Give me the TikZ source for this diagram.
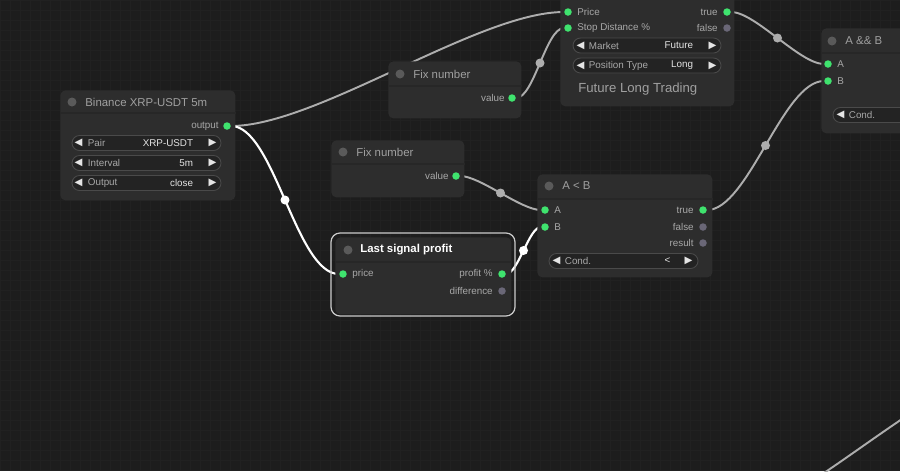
\documentclass[tikz,border=0pt]{standalone}
\usepackage{fontspec}
\setmainfont{Liberation Sans}
\newfontfamily\symfont{DejaVu Sans}
\pgfdeclarelayer{grid}
\pgfdeclarelayer{links}
\pgfsetlayers{grid,links,main}
\newlength\px
\setlength\px{0.02cm}
\definecolor{canvas}{HTML}{1D1D1D}
\definecolor{gridcol}{HTML}{212121}
\definecolor{panelbg}{HTML}{2D2D2D}
\definecolor{dividercol}{HTML}{272727}
\definecolor{titlecol}{HTML}{A0A0A0}
\definecolor{labelcol}{HTML}{A8A8A8}
\definecolor{valuecol}{HTML}{E4E4E4}
\definecolor{pillbg}{HTML}{232323}
\definecolor{pillline}{HTML}{4A4A4A}
\definecolor{portgreen}{HTML}{3FE36E}
\definecolor{portgrey}{HTML}{6A6777}
\definecolor{tdotcol}{HTML}{5A5A5A}
\definecolor{linkcol}{HTML}{ADADAD}
\tikzset{
  panel/.style={fill=panelbg, rounded corners=5\px, anchor=north west, inner sep=0},
  divider/.style={draw=dividercol, line width=0.6pt},
  title/.style={text=titlecol, font=\fontsize{6.5}{7}\selectfont, anchor=west, inner sep=0},
  lbl/.style={text=labelcol, font=\fontsize{5.6}{6.5}\selectfont, anchor=west, inner sep=0},
  rlbl/.style={lbl, anchor=east},
  val/.style={text=valuecol, font=\fontsize{5.6}{6.5}\selectfont, anchor=east, inner sep=0},
  pill/.style={draw=pillline, fill=pillbg, rounded corners=7.5\px, minimum height=15\px, inner sep=0, line width=0.5pt},
  arr/.style={text=valuecol, font=\symfont\fontsize{5.8}{6}\selectfont, inner sep=0},
  port/.style={circle, fill=portgreen, minimum size=7.5\px, inner sep=0},
  portoff/.style={port, fill=portgrey},
  tdot/.style={circle, fill=tdotcol, minimum size=9\px, inner sep=0},
  link/.style={draw=linkcol, line width=1.1pt},
  hotlink/.style={draw=white, line width=1.2pt},
  linkdot/.style={circle, fill=linkcol, minimum size=9\px, inner sep=0},
  hotdot/.style={linkdot, fill=white}
}
\begin{document}
\begin{tikzpicture}[x=0.02cm, y=-0.02cm]
    \useasboundingbox (0,0) rectangle (900,471);
    \clip (0,0) rectangle (900,471);

    % canvas
    \begin{pgfonlayer}{grid}
    \fill[canvas] (0,0) rectangle (900,471);
    \foreach \gx in {0,10,...,900} \draw[gridcol, line width=0.3pt] (\gx,0) -- (\gx,471);
    \foreach \gy in {0,10,...,470} \draw[gridcol, line width=0.3pt] (0,\gy) -- (900,\gy);
    \end{pgfonlayer}

    % Binance XRP-USDT 5m
    \node[panel, minimum width=175\px, minimum height=110\px] (bin) at (60,90) {};
    \draw[divider] ([yshift=-23\px]bin.north west) -- ([yshift=-23\px]bin.north east);
    \node[tdot] (bin-dot) at (72,102) {};
    \node[title] (bin-title) at (85,102) {Binance XRP-USDT 5m};
    \node[rlbl] (bin-outl) at (219,126) {output};
    \node[port] (bin-out) at (227,126) {};
    \node[pill, minimum width=149\px] (bin-pair) at (146.5,143) {};
    \node[arr] at ([xshift=7\px]bin-pair.west) {◀};
    \node[lbl] at ([xshift=16\px]bin-pair.west) {Pair};
    \node[val] at ([xshift=-28\px]bin-pair.east) {XRP-USDT};
    \node[arr] at ([xshift=-9\px]bin-pair.east) {▶};
    \node[pill, minimum width=149\px] (bin-int) at (146.5,163) {};
    \node[arr] at ([xshift=7\px]bin-int.west) {◀};
    \node[lbl] at ([xshift=16\px]bin-int.west) {Interval};
    \node[val] at ([xshift=-28\px]bin-int.east) {5m};
    \node[arr] at ([xshift=-9\px]bin-int.east) {▶};
    \node[pill, minimum width=149\px] (bin-outp) at (146.5,183) {};
    \node[arr] at ([xshift=7\px]bin-outp.west) {◀};
    \node[lbl] at ([xshift=16\px]bin-outp.west) {Output};
    \node[val] at ([xshift=-28\px]bin-outp.east) {close};
    \node[arr] at ([xshift=-9\px]bin-outp.east) {▶};

    % Fix number (top)
    \node[panel, minimum width=133\px, minimum height=57\px] (fa) at (388,61) {};
    \draw[divider] ([yshift=-25\px]fa.north west) -- ([yshift=-25\px]fa.north east);
    \node[tdot] (fa-dot) at (400,74) {};
    \node[title] (fa-title) at (413,74) {Fix number};
    \node[rlbl] (fa-vall) at (505,98) {value};
    \node[port] (fa-value) at (512,98) {};

    % Fix number (bottom)
    \node[panel, minimum width=133\px, minimum height=57\px] (fb) at (331,140) {};
    \draw[divider] ([yshift=-24\px]fb.north west) -- ([yshift=-24\px]fb.north east);
    \node[tdot] (fb-dot) at (343,152) {};
    \node[title] (fb-title) at (356,152) {Fix number};
    \node[rlbl] (fb-vall) at (449,176) {value};
    \node[port] (fb-value) at (456,176) {};

    % Future Long Trading
    \node[panel, minimum width=174\px, minimum height=126\px] (fut) at (560,-20) {};
    \node[port] (fut-price) at (568,12) {};
    \node[lbl] at (577,12) {Price};
    \node[port] (fut-stop) at (568,28) {};
    \node[lbl] at (577,28) {Stop Distance \%};
    \node[rlbl] at (718,12) {true};
    \node[port] (fut-true) at (727,12) {};
    \node[rlbl] at (718,28) {false};
    \node[portoff] (fut-false) at (727,28) {};
    \node[pill, minimum width=148\px] (fut-mkt) at (647,45.5) {};
    \node[arr] at ([xshift=8\px]fut-mkt.west) {◀};
    \node[lbl] at ([xshift=16\px]fut-mkt.west) {Market};
    \node[val] at ([xshift=-28\px]fut-mkt.east) {Future};
    \node[arr] at ([xshift=-9\px]fut-mkt.east) {▶};
    \node[pill, minimum width=148\px] (fut-pos) at (647,65.5) {};
    \node[arr] at ([xshift=8\px]fut-pos.west) {◀};
    \node[lbl] at ([xshift=16\px]fut-pos.west) {Position Type};
    \node[val] at ([xshift=-28\px]fut-pos.east) {Long};
    \node[arr] at ([xshift=-9\px]fut-pos.east) {▶};
    \node[title, font=\fontsize{7.5}{8}\selectfont] (fut-name) at (578,89) {Future Long Trading};

    % A && B
    \node[panel, minimum width=100\px, minimum height=105\px] (and) at (821,28) {};
    \draw[divider] ([yshift=-25\px]and.north west) -- ([yshift=-25\px]and.north east);
    \node[tdot] (and-dot) at (832,41) {};
    \node[title] (and-title) at (845,41) {A \&\& B};
    \node[port] (and-a) at (828,64) {};
    \node[lbl] at (837,64) {A};
    \node[port] (and-b) at (828,81) {};
    \node[lbl] at (837,81) {B};
    \node[pill, minimum width=100\px] (and-cond) at (883,115) {};
    \node[arr] at ([xshift=8\px]and-cond.west) {◀};
    \node[lbl] at ([xshift=16\px]and-cond.west) {Cond.};

    % Last signal profit (selected)
    \draw[white!80!black, line width=0.7pt, rounded corners=9\px] (331,233) rectangle (515,316);
    \node[panel, minimum width=176\px, minimum height=77\px] (lsp) at (335,237) {};
    \draw[divider] ([yshift=-25\px]lsp.north west) -- ([yshift=-25\px]lsp.north east);
    \node[tdot] (lsp-dot) at (348,250) {};
    \node[title, text=white, font=\bfseries\fontsize{6.5}{7}\selectfont] (lsp-title) at (360,250) {Last signal profit};
    \node[port] (lsp-price) at (343,274) {};
    \node[lbl] at (352,274) {price};
    \node[rlbl] at (493,274) {profit \%};
    \node[port] (lsp-profit) at (502,274) {};
    \node[rlbl] at (493,291) {difference};
    \node[portoff] (lsp-diff) at (502,291) {};

    % A < B
    \node[panel, minimum width=175\px, minimum height=103\px] (lt) at (537,174) {};
    \draw[divider] ([yshift=-25\px]lt.north west) -- ([yshift=-25\px]lt.north east);
    \node[tdot] (lt-dot) at (549,186) {};
    \node[title] (lt-title) at (562,186) {A < B};
    \node[port] (lt-a) at (545,210) {};
    \node[lbl] at (554,210) {A};
    \node[port] (lt-b) at (545,227) {};
    \node[lbl] at (554,227) {B};
    \node[rlbl] at (694,210) {true};
    \node[port] (lt-true) at (703,210) {};
    \node[rlbl] at (694,227) {false};
    \node[portoff] (lt-false) at (703,227) {};
    \node[rlbl] at (694,243) {result};
    \node[portoff] (lt-result) at (703,243) {};
    \node[pill, minimum width=149\px] (lt-cond) at (623.5,261) {};
    \node[arr] at ([xshift=8\px]lt-cond.west) {◀};
    \node[lbl] at ([xshift=16\px]lt-cond.west) {Cond.};
    \node[val, anchor=center] at ([xshift=-31\px]lt-cond.east) {<};
    \node[arr] at ([xshift=-10\px]lt-cond.east) {▶};

    % loose end, bottom right
    \coordinate (loose-a) at (818,477);
    \coordinate (loose-b) at (908,415);

    % links
    \begin{pgfonlayer}{links}
    \draw[link] (bin-out) .. controls +(90,0) and +(-90,0) .. (fut-price);
    \draw[hotlink] (bin-out) .. controls +(47,0) and +(-47,0) .. (lsp-price) node[hotdot, pos=0.5] (k1) {};
    \draw[link] (fa-value) .. controls +(22,0) and +(-22,0) .. (fut-stop) node[linkdot, pos=0.5] (k2) {};
    \draw[link] (fb-value) .. controls +(24,0) and +(-24,0) .. (lt-a) node[linkdot, pos=0.5] (k3) {};
    \draw[hotlink] (lsp-profit) .. controls +(16,0) and +(-16,0) .. (lt-b) node[hotdot, pos=0.5] (k4) {};
    \draw[link] (lt-true) .. controls +(45,0) and +(-45,0) .. (and-b) node[linkdot, pos=0.5] (k5) {};
    \draw[link] (fut-true) .. controls +(28,0) and +(-28,0) .. (and-a) node[linkdot, pos=0.5] (k6) {};
    \draw[link] (loose-a) .. controls +(30,-20) and +(-30,20) .. (loose-b);
    \end{pgfonlayer}
\end{tikzpicture}
\end{document}
